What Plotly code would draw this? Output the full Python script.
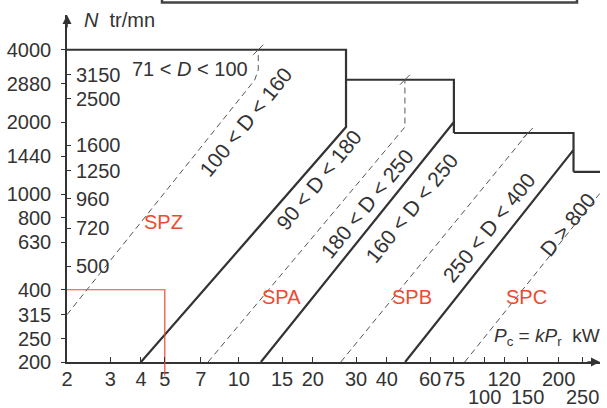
import numpy as np
import plotly.graph_objects as go

# ---------------- data ----------------
x_ticks = [2, 3, 4, 5, 7, 10, 15, 20, 30, 40, 60, 75, 100, 120, 150, 200, 250]
x_row2 = [100, 150, 250]          # tick labels printed on a second row
y_ticks_left = [4000, 2880, 2000, 1440, 1000, 800, 630, 400, 315, 250, 200]
y_ticks_right = [3150, 2500, 1600, 1250, 960, 720, 500]

# solid boundaries (P in kW, N in tr/mn)
spz_spa_P = [2, 27.3, 27.3, 4]
spz_spa_N = [4000, 4000, 1905, 200]
spa_spb_P = [27.3, 75, 75, 75, 12.3]
spa_spb_N = [3000, 3000, 1800, 2000, 200]
spb_spc_P = [75, 230, 230, 230, 47.5]
spb_spc_N = [1800, 1800, 1240, 1530, 200]
spc_top_P = [230, 330]
spc_top_N = [1240, 1240]

# dashed diameter separations
d_spz_P = [2, 11.6, 12, 12]
d_spz_N = [315, 2990, 3300, 4000]
d_spa_P = [7.5, 47.4, 47.4]
d_spa_N = [200, 1905, 3000]
d_spb_P = [26, 150]
d_spb_N = [200, 1800]
d_spc_P = [83, 356]
d_spc_N = [200, 1286]

# small crossing ticks where dashed lines meet the limits
mark_P = [12, 47.4, 150]
mark_N = [4000, 3000, 1800]

# example reading (red)
ex_P = [2, 5, 5]
ex_N = [400, 400, 200]

# region labels
zone_names = ['SPZ', 'SPA', 'SPB', 'SPC']
zone_P = [4.92, 14.85, 50.7, 148.7]
zone_N = [766, 373, 373, 373]

# diameter labels (rotated)
dia_text = ['100 < D < 160', '90 < D < 180', '180 < D < 250',
            '160 < D < 250', '250 < D < 400', 'D > 800']
dia_P = [10.6, 21.0, 33.2, 50.2, 104, 218]
dia_N = [2000, 1146, 919, 876, 730, 745]

# ---------------- figure ----------------
INK = '#333333'
RED = '#ef4a2f'
FONT = 'Liberation Sans, Arial, sans-serif'

W, H = 607, 408
L, R, T, B = 67, 7, 15, 46
pw, ph = W - L - R, H - T - B
PB = H - B  # page y of the x axis

fig = go.Figure()

for P, N in [(spz_spa_P, spz_spa_N), (spa_spb_P, spa_spb_N),
             (spb_spc_P, spb_spc_N), (spc_top_P, spc_top_N)]:
    fig.add_trace(go.Scatter(x=P, y=N, mode='lines',
                             line=dict(color=INK, width=2.2),
                             hoverinfo='skip', showlegend=False))

for P, N in [(d_spz_P, d_spz_N), (d_spa_P, d_spa_N),
             (d_spb_P, d_spb_N), (d_spc_P, d_spc_N)]:
    fig.add_trace(go.Scatter(x=P, y=N, mode='lines',
                             line=dict(color='#555555', width=1, dash='6px,4px'),
                             hoverinfo='skip', showlegend=False))

fig.add_trace(go.Scatter(x=mark_P, y=mark_N, mode='markers',
                         marker=dict(symbol='line-ne', size=10,
                                     line=dict(color='#555555', width=1)),
                         hoverinfo='skip', showlegend=False))

fig.add_trace(go.Scatter(x=ex_P, y=ex_N, mode='lines',
                         line=dict(color=RED, width=1.2),
                         hoverinfo='skip', showlegend=False))

# dummy trace carrying the inner tick axis
fig.add_trace(go.Scatter(x=[2], y=[200], yaxis='y2', mode='markers',
                         marker=dict(opacity=0), hoverinfo='skip',
                         showlegend=False))

annotations = []
for t, P, N in zip(zone_names, zone_P, zone_N):
    annotations.append(dict(x=np.log10(P), y=np.log10(N), xref='x', yref='y',
                            text=t, showarrow=False,
                            font=dict(family=FONT, size=20, color=RED)))
for t, P, N in zip(dia_text, dia_P, dia_N):
    annotations.append(dict(x=np.log10(P), y=np.log10(N), xref='x', yref='y',
                            text=t, showarrow=False, textangle=-51,
                            font=dict(family=FONT, size=21, color=INK)))
annotations.append(dict(x=np.log10(6.33), y=np.log10(3326), xref='x', yref='y',
                        text='71 < <i>D</i> < 100', showarrow=False,
                        font=dict(family=FONT, size=20, color=INK)))
annotations.append(dict(x=(602 - L) / pw, y=np.log10(254), xref='paper', yref='y',
                        xanchor='right',
                        text='<i>P</i><sub>c</sub> = <i>kP</i><sub>r</sub>\u00a0\u00a0kW',
                        showarrow=False,
                        font=dict(family=FONT, size=19, color=INK)))
annotations.append(dict(x=(82 - L) / pw, y=(PB - 20) / ph, xref='paper', yref='paper',
                        xanchor='left', yanchor='middle',
                        text='<i>N</i>\u00a0\u00a0tr/mn', showarrow=False,
                        font=dict(family=FONT, size=20, color=INK)))
# inner y tick labels
for v in y_ticks_right:
    annotations.append(dict(x=(74 - L) / pw, y=np.log10(v), xref='paper', yref='y',
                            xanchor='left', yanchor='middle', text=str(v),
                            showarrow=False,
                            font=dict(family=FONT, size=20, color=INK)))
# second-row x tick labels
for v in x_row2:
    annotations.append(dict(x=np.log10(v), y=-(397 - PB) / ph, xref='x', yref='paper',
                            xanchor='center', yanchor='middle', text=str(v),
                            showarrow=False,
                            font=dict(family=FONT, size=20, color=INK)))
# axis arrows
annotations.append(dict(x=1.0, y=0, xref='paper', yref='paper', ax=-14, ay=0,
                        text='', showarrow=True, arrowhead=2, arrowsize=1.2,
                        arrowwidth=1.5, arrowcolor=INK))
annotations.append(dict(x=0, y=1.0, xref='paper', yref='paper', ax=0, ay=14,
                        text='', showarrow=True, arrowhead=2, arrowsize=1.2,
                        arrowwidth=1.5, arrowcolor=INK))
# red line extends below the axis
annotations.append(dict(x=np.log10(5), y=np.log10(200), xref='x', yref='y',
                        ax=0, ay=15, text='', showarrow=True, arrowhead=0,
                        arrowwidth=1.2, arrowcolor=RED, standoff=0))

xr = [np.log10(2), np.log10(2) + pw / 245.8]
yr = [np.log10(200), np.log10(200) + ph / 240.0]

shapes = [dict(type='rect', xref='paper', yref='paper',
               x0=(162 - L) / pw, x1=(577 - L) / pw,
               y0=(PB - 2.5) / ph, y1=(PB + 30) / ph,
               line=dict(color='#444444', width=2.5), fillcolor='rgba(0,0,0,0)')]

fig.update_layout(
    width=W, height=H,
    margin=dict(l=L, r=R, t=T, b=B, autoexpand=False),
    paper_bgcolor='white', plot_bgcolor='white',
    font=dict(family=FONT, size=20, color=INK),
    annotations=annotations, shapes=shapes,
    xaxis=dict(type='log', range=xr, tickvals=x_ticks,
               ticktext=['' if v in x_row2 else str(v) for v in x_ticks],
               tickangle=0, ticks='inside', ticklen=5, tickwidth=1.2,
               tickcolor=INK, showline=True, linecolor=INK, linewidth=1.5,
               showgrid=False, zeroline=False, automargin=False,
               ticklabelstandoff=-2,
               tickfont=dict(family=FONT, size=20, color=INK)),
    yaxis=dict(type='log', range=yr, tickvals=y_ticks_left,
               ticktext=[str(v) for v in y_ticks_left],
               ticks='outside', ticklen=4, tickwidth=1.2, tickcolor=INK,
               showline=True, linecolor=INK, linewidth=1.5,
               showgrid=False, zeroline=False, automargin=False,
               ticklabelstandoff=6,
               tickfont=dict(family=FONT, size=20, color=INK)),
    yaxis2=dict(type='log', range=yr, overlaying='y', side='left',
                tickvals=y_ticks_right, showticklabels=False,
                ticks='inside', ticklen=4, automargin=False,
                tickwidth=1.2, tickcolor=INK, showline=False,
                showgrid=False, zeroline=False),
)

fig.write_html('out.html', config={'displayModeBar': False},
               post_script="document.body.style.margin='0px';")
